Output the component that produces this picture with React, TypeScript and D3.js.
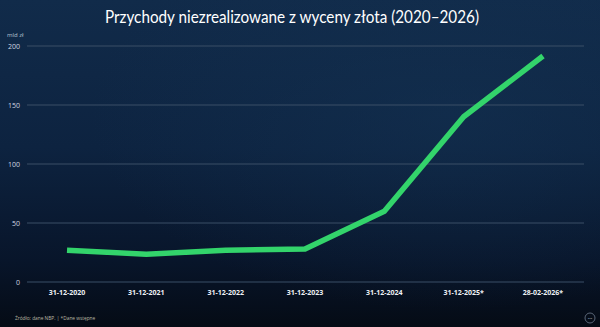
import React from "react";
import * as d3 from "d3";

const categories = ["31-12-2020", "31-12-2021", "31-12-2022", "31-12-2023", "31-12-2024", "31-12-2025*", "28-02-2026*"];
const values = [27, 23.5, 27, 28, 60, 140, 191.5];
const yTicks = [0, 50, 100, 150, 200];

const W = 600, H = 327;
const gridLeft = 27, gridRight = 584;
const x = d3.scalePoint<string>().domain(categories).range([67, 543]);
const y = d3.scaleLinear().domain([0, 200]).range([282, 46]);

export default function App() {
  const line = d3.line<number>().x((_, i) => x(categories[i]) as number).y((d) => y(d));
  return (
    <svg width={W} height={H} style={{ position: "fixed", left: 0, top: 0 }} fontFamily="'Open Sans', sans-serif">
      <defs>
        <linearGradient id="bg" x1="0" y1="0" x2="0" y2="1">
          <stop offset="0" stopColor="#112b4a" />
          <stop offset="0.45" stopColor="#0d2340" />
          <stop offset="0.8" stopColor="#08152a" />
          <stop offset="1" stopColor="#050b15" />
        </linearGradient>
        <radialGradient id="glow" cx="0.75" cy="0.35" r="0.6">
          <stop offset="0" stopColor="#143354" stopOpacity="0.5" />
          <stop offset="1" stopColor="#143354" stopOpacity="0" />
        </radialGradient>
      </defs>
      <rect width={W} height={H} fill="url(#bg)" />
      <rect width={W} height={H} fill="url(#glow)" />
      <text x={292} y={23} textAnchor="middle" fill="#ffffff" fontSize={16.5} fontFamily="Lato, sans-serif"
        textLength={374} lengthAdjust="spacingAndGlyphs">
        Przychody niezrealizowane z wyceny złota (2020–2026)
      </text>
      <text x={7} y={37} fill="#b8c3d0" fontSize={6}>mld zł</text>
      {yTicks.map((t) => (
        <g key={t}>
          <line x1={gridLeft} x2={gridRight} y1={y(t)} y2={y(t)} stroke="#3a4e66" strokeWidth={1} />
          <text x={20} y={y(t) + 2.5} textAnchor="end" fill="#d0d7e0" fontSize={7}>{t}</text>
        </g>
      ))}
      {categories.map((c) => (
        <text key={c} x={x(c)} y={295} textAnchor="middle" fill="#eef1f5" fontSize={7} fontWeight="bold">{c}</text>
      ))}
      <path d={line(values) || ""} fill="none" stroke="#33d46b" strokeWidth={5.5} strokeLinejoin="round" strokeLinecap="butt" />
      <text x={15} y={320} fill="#bdb9a4" fontSize={4.8}>Źródło: dane NBP.  |  *Dane wstępne</text>
      <circle cx={590} cy={318} r={5} fill="none" stroke="#5a6678" strokeWidth={1} />
      <text x={590} y={319.5} textAnchor="middle" fill="#8a95a5" fontSize={4}>•••</text>
    </svg>
  );
}
